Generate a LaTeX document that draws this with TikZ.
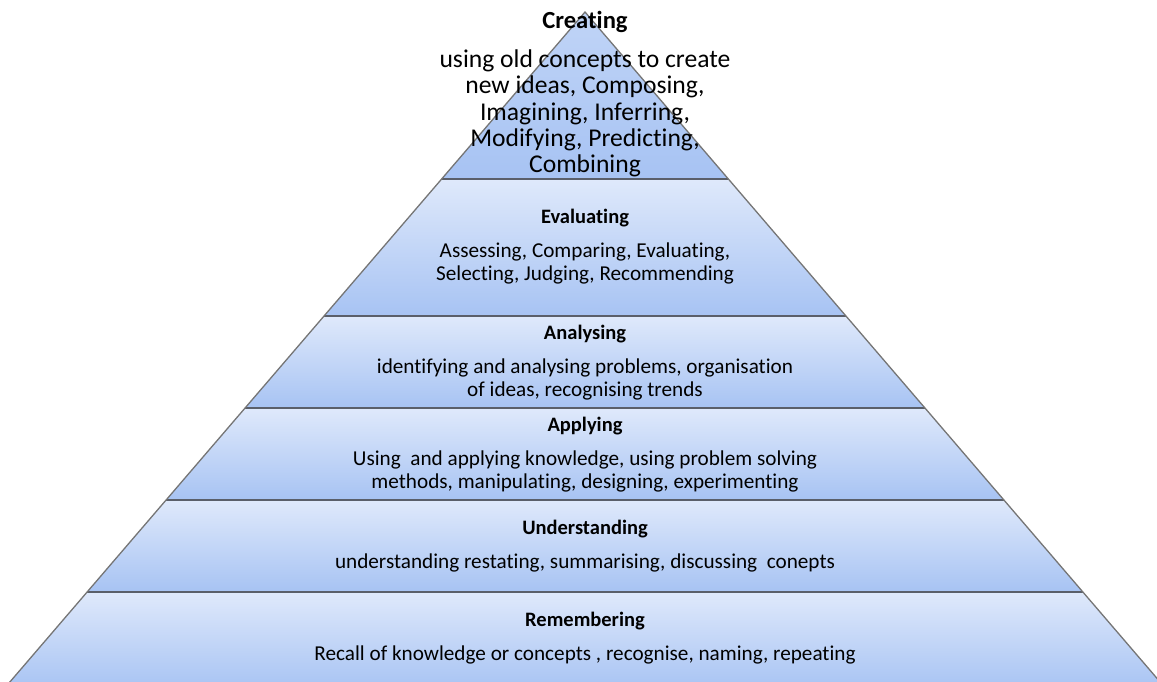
\documentclass[tikz,border=0pt]{standalone}
\usepackage{fontspec}
\setmainfont{Carlito}[Ligatures=CommonOff]
\begin{document}
\begin{tikzpicture}[x=1pt,y=-1pt,
  layer/.style={top color=layTop,bottom color=layBot,draw=none},
  sep/.style={draw=sepCol,line width=1.8pt},
  edge/.style={draw=edgeCol,line width=1.3pt},
  ttl/.style={font=\fontsize{20.5}{24}\selectfont\bfseries,inner sep=0pt,anchor=center},
  bdy/.style={font=\fontsize{21.2}{23}\selectfont,align=center,inner sep=0pt,anchor=center},
  bigttl/.style={font=\fontsize{24.6}{28}\selectfont\bfseries,inner sep=0pt,anchor=center},
  bigbdy/.style={font=\fontsize{25.6}{26.3}\selectfont,align=center,inner sep=0pt,anchor=center}]
\definecolor{layTop}{HTML}{DFE9FB}
\definecolor{layBot}{HTML}{A7C3F3}
\definecolor{sepCol}{HTML}{5A5F6A}
\definecolor{edgeCol}{HTML}{757575}
\useasboundingbox (0,0) rectangle (1157,681);
\clip (0,0) rectangle (1157,681);
% layers
\shade[top color=layBot!55!layTop,bottom color=layBot] (585,12) -- (728.3,179) -- (441.7,179) -- cycle;
\shade[layer] (441.7,179) -- (728.3,179) -- (845.8,316) -- (324.2,316) -- cycle;
\shade[layer] (324.2,316) -- (845.8,316) -- (924.8,408) -- (245.2,408) -- cycle;
\shade[layer] (245.2,408) -- (924.8,408) -- (1003.7,500) -- (166.3,500) -- cycle;
\shade[layer] (166.3,500) -- (1003.7,500) -- (1082.6,592) -- (87.4,592) -- cycle;
\shade[layer] (87.4,592) -- (1082.6,592) -- (1167,690) -- (3,690) -- cycle;
% separators
\draw[sep] (441.7,179) -- (728.3,179);
\draw[sep] (324.2,316) -- (845.8,316);
\draw[sep] (245.2,408) -- (924.8,408);
\draw[sep] (166.3,500) -- (1003.7,500);
\draw[sep] (87.4,592) -- (1082.6,592);
% outline
\draw[edge] (3,690) -- (585,12) -- (1167,690);
% texts
\node[bigttl] (t1) at (585,22) {Creating};
\node[bigbdy] (b1) at (585,113.5) {using old concepts to create\\new ideas, Composing,\\Imagining, Inferring,\\Modifying, Predicting,\\Combining};
\node[ttl] (t2) at (585,218) {Evaluating};
\node[bdy] (b2) at (585,263.5) {Assessing, Comparing, Evaluating,\\Selecting, Judging, Recommending};
\node[ttl] (t3) at (585,334) {Analysing};
\node[bdy] (b3) at (585,379) {identifying and analysing problems, organisation\\of ideas, recognising trends};
\node[ttl] (t4) at (585,426) {Applying};
\node[bdy] (b4) at (585,471) {Using\ \ and applying knowledge, using problem solving\\methods, manipulating, designing, experimenting};
\node[ttl] (t5) at (585,529) {Understanding};
\node[bdy] (b5) at (585,563) {understanding restating, summarising, discussing\ \ conepts};
\node[ttl] (t6) at (585,621) {Remembering};
\node[bdy] (b6) at (585,655) {Recall of knowledge or concepts , recognise, naming, repeating};
\end{tikzpicture}
\end{document}
